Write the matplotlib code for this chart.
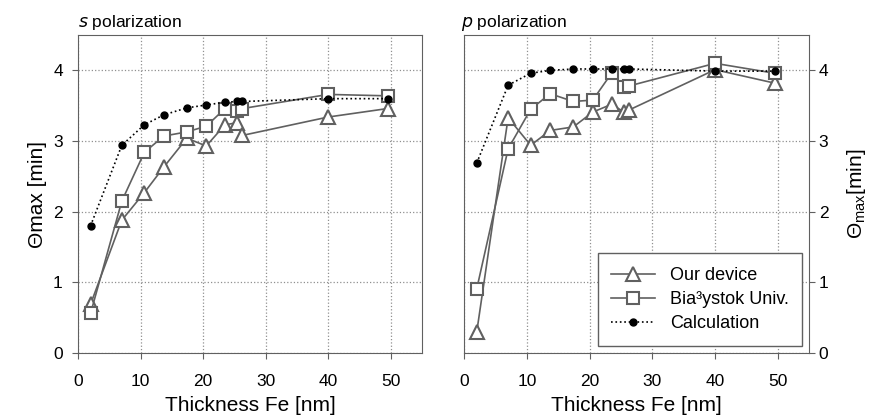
import numpy as np
import matplotlib
matplotlib.use('Agg')
import matplotlib.pyplot as plt

plt.rcParams['font.family'] = ['Liberation Sans', 'DejaVu Sans']

thick = [2.0, 7.0, 10.6, 13.7, 17.4, 20.5, 23.5, 25.5, 26.3, 40.0, 49.5]

# s polarization
s_device = [0.69, 1.88, 2.27, 2.63, 3.04, 2.93, 3.23, 3.26, 3.08, 3.34, 3.46]
s_bialystok = [0.56, 2.15, 2.84, 3.07, 3.13, 3.21, 3.46, 3.42, 3.46, 3.66, 3.64]
s_calc = [1.80, 2.94, 3.23, 3.37, 3.47, 3.51, 3.55, 3.56, 3.56, 3.60, 3.60]

# p polarization
p_device = [0.30, 3.33, 2.94, 3.15, 3.20, 3.41, 3.52, 3.41, 3.44, 4.01, 3.82]
p_bialystok = [0.91, 2.89, 3.45, 3.67, 3.56, 3.58, 3.96, 3.77, 3.78, 4.10, 3.96]
p_calc = [2.69, 3.79, 3.96, 4.00, 4.02, 4.02, 4.02, 4.02, 4.02, 3.99, 3.99]

gray = '#606060'
fig = plt.figure(figsize=(8.7, 4.2), dpi=100)
ax1 = fig.add_axes([0.0897, 0.1595, 0.3953, 0.757])
ax2 = fig.add_axes([0.5336, 0.1595, 0.3964, 0.757])


def draw(ax, dev, bia, calc):
    ax.plot(thick, dev, '-', color=gray, lw=1.2, marker='^', ms=10,
            mfc='white', mec=gray, mew=1.5, label='Our device')
    ax.plot(thick, bia, '-', color=gray, lw=1.2, marker='s', ms=9,
            mfc='white', mec=gray, mew=1.5, label='Bia³ystok Univ.')
    ax.plot(thick, calc, ':', color='black', lw=1.2, marker='o', ms=5,
            mfc='black', mec='black', label='Calculation')
    ax.set_xlim(0, 55)
    ax.set_ylim(0, 4.5)
    ax.set_xticks([0, 10, 20, 30, 40, 50])
    ax.set_yticks([0, 1, 2, 3, 4])
    ax.grid(True, linestyle=':', color='#909090', lw=0.9)
    ax.tick_params(labelsize=12.5, direction='out', length=4, color=gray)
    ax.tick_params(axis='x', pad=11)
    for sp in ax.spines.values():
        sp.set_color(gray)
    ax.set_xlabel('Thickness Fe [nm]', fontsize=15, labelpad=5)


draw(ax1, s_device, s_bialystok, s_calc)
draw(ax2, p_device, p_bialystok, p_calc)

ax1.tick_params(axis='y', pad=7)
ax1.set_ylabel('Θmax [min]', fontsize=15, labelpad=4)
ax1.set_title(r'$\it{s}$ polarization', loc='left', fontsize=12.5, x=0.0, pad=6)

ax2.yaxis.tick_right()
ax2.yaxis.set_label_position('right')
ax2.tick_params(axis='y', pad=3)
ax2.set_ylabel(r'Θ$_{\mathregular{max}}$[min]', fontsize=15, labelpad=12)
ax2.set_title(r'$\it{p}$ polarization', loc='left', fontsize=12.5, x=-0.01, pad=6)

leg = ax2.legend(loc='lower right', bbox_to_anchor=(0.98, 0.022), borderaxespad=0,
                 fontsize=13, fancybox=False, edgecolor=gray, framealpha=1,
                 handlelength=2.45, borderpad=0.75, labelspacing=0.4)
leg.get_frame().set_linewidth(1.0)

fig.savefig('out.png', dpi=100)
